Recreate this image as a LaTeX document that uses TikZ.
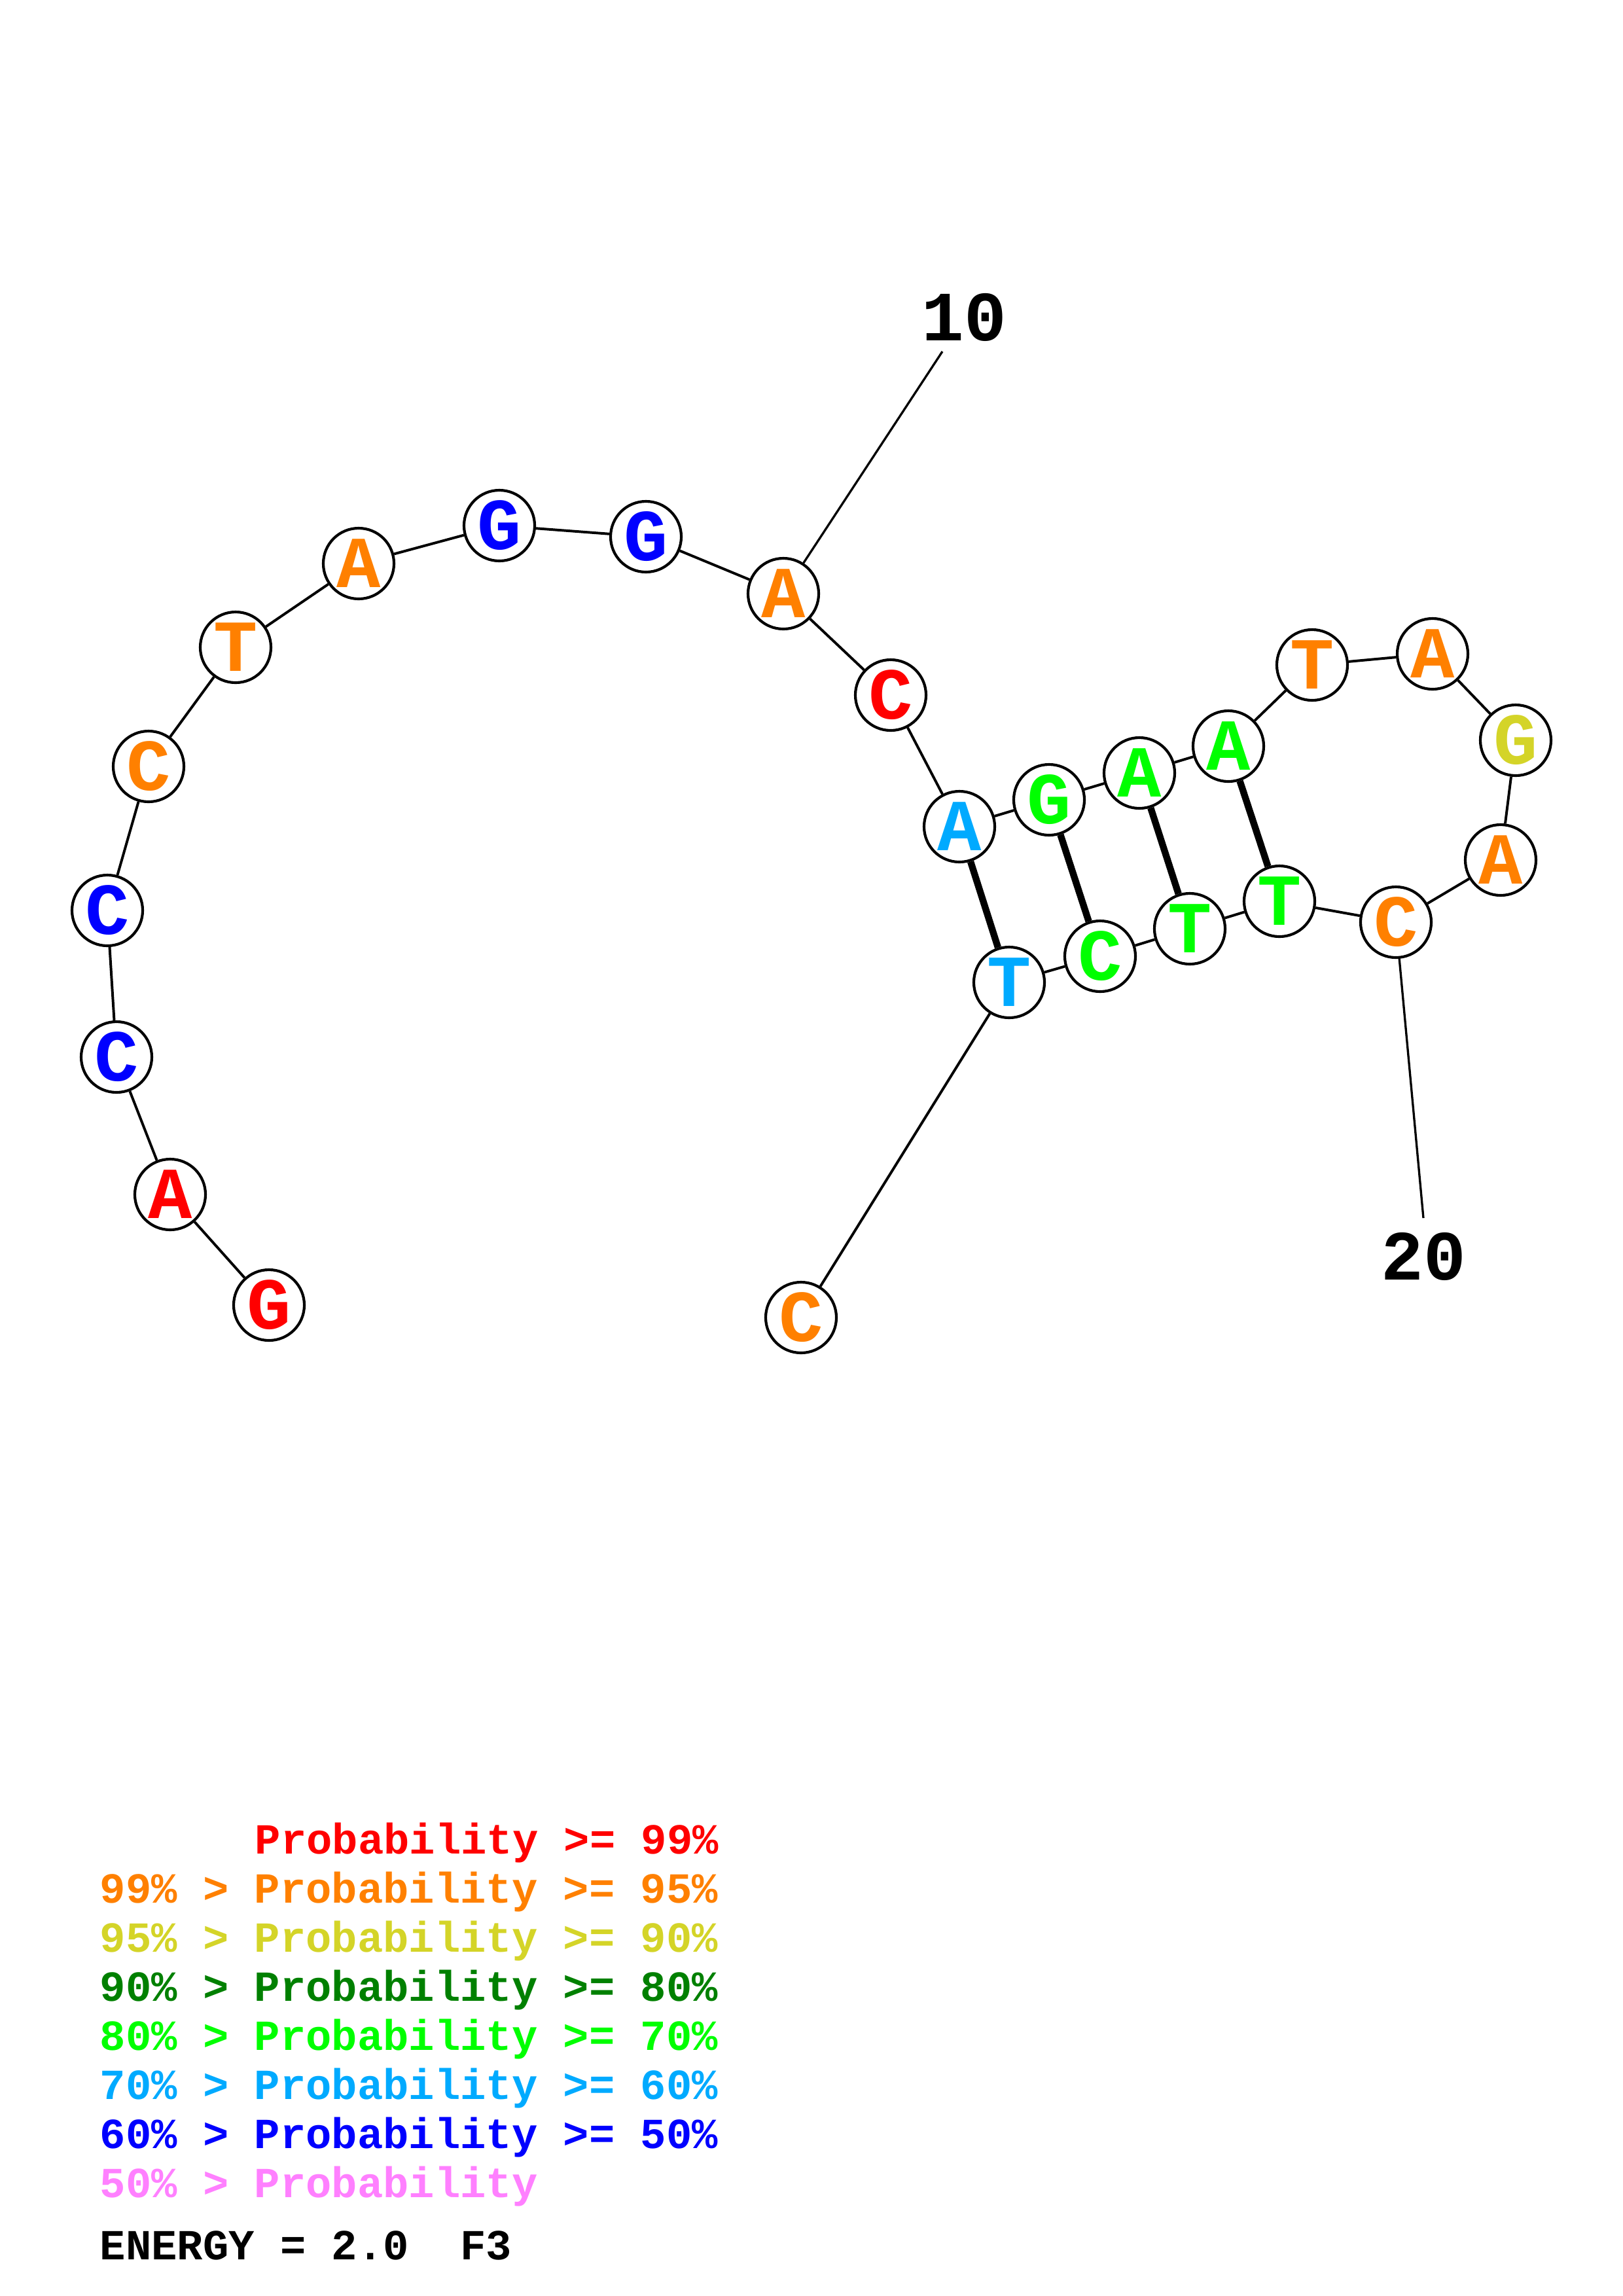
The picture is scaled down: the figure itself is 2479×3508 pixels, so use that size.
\documentclass[tikz,border=0pt]{standalone}
\usepackage{fontspec}
\setmonofont{Liberation Mono}
\definecolor{pA}{RGB}{255,0,0}
\definecolor{pB}{RGB}{255,128,0}
\definecolor{pC}{RGB}{212,212,40}
\definecolor{pD}{RGB}{0,128,0}
\definecolor{pE}{RGB}{0,255,0}
\definecolor{pF}{RGB}{0,170,255}
\definecolor{pG}{RGB}{0,0,255}
\definecolor{pH}{RGB}{255,128,255}

\begin{document}
\begin{tikzpicture}[x=0.08471mm, y=-0.08471mm,
  nt/.style={circle, draw, line width=1pt, fill=white, minimum size=9.15mm, inner sep=0pt, font=\fontsize{27}{27}\selectfont\ttfamily\bfseries},
  bond/.style={line width=0.95pt},
  basepair/.style={line width=2.5pt},
  numline/.style={line width=0.8pt},
  numlabel/.style={inner sep=0pt, font=\fontsize{26}{26}\selectfont\ttfamily\bfseries},
  keyline/.style={anchor=base west, inner sep=0pt, font=\fontsize{15.8}{15.8}\selectfont\ttfamily\bfseries}]
\useasboundingbox (0,0) rectangle (2479,3508);

\node[nt, text=pA] (g1) at (411,1994) {G};
\node[nt, text=pA] (a2) at (260,1825) {A};
\node[nt, text=pG] (c3) at (178,1615) {C};
\node[nt, text=pG] (c4) at (164,1391) {C};
\node[nt, text=pB] (c5) at (227,1171) {C};
\node[nt, text=pB] (t6) at (360,989) {T};
\node[nt, text=pB] (a7) at (548,861) {A};
\node[nt, text=pG] (g8) at (763,803) {G};
\node[nt, text=pG] (g9) at (987,820) {G};
\node[nt, text=pB] (a10) at (1197,907) {A};
\node[nt, text=pA] (c11) at (1361,1062) {C};
\node[nt, text=pF] (a12) at (1466,1263) {A};
\node[nt, text=pE] (g13) at (1603,1222) {G};
\node[nt, text=pE] (a14) at (1741,1181) {A};
\node[nt, text=pE] (a15) at (1877,1140) {A};
\node[nt, text=pB] (t16) at (2005,1016) {T};
\node[nt, text=pB] (a17) at (2189,999) {A};
\node[nt, text=pC] (g18) at (2316,1131) {G};
\node[nt, text=pB] (a19) at (2293,1314) {A};
\node[nt, text=pB] (c20) at (2133,1409) {C};
\node[nt, text=pE] (t21) at (1955,1377) {T};
\node[nt, text=pE] (t22) at (1818,1419) {T};
\node[nt, text=pE] (c23) at (1681,1461) {C};
\node[nt, text=pF] (t24) at (1542,1501) {T};
\node[nt, text=pB] (c25) at (1224,2013) {C};

\draw[bond] (g1) -- (a2);
\draw[bond] (a2) -- (c3);
\draw[bond] (c3) -- (c4);
\draw[bond] (c4) -- (c5);
\draw[bond] (c5) -- (t6);
\draw[bond] (t6) -- (a7);
\draw[bond] (a7) -- (g8);
\draw[bond] (g8) -- (g9);
\draw[bond] (g9) -- (a10);
\draw[bond] (a10) -- (c11);
\draw[bond] (c11) -- (a12);
\draw[bond] (a12) -- (g13);
\draw[bond] (g13) -- (a14);
\draw[bond] (a14) -- (a15);
\draw[bond] (a15) -- (t16);
\draw[bond] (t16) -- (a17);
\draw[bond] (a17) -- (g18);
\draw[bond] (g18) -- (a19);
\draw[bond] (a19) -- (c20);
\draw[bond] (c20) -- (t21);
\draw[bond] (t21) -- (t22);
\draw[bond] (t22) -- (c23);
\draw[bond] (c23) -- (t24);
\draw[bond] (t24) -- (c25);

\draw[basepair] (a12) -- (t24);
\draw[basepair] (g13) -- (c23);
\draw[basepair] (a14) -- (t22);
\draw[basepair] (a15) -- (t21);

\coordinate (e10) at (1440,537);
\coordinate (e20) at (2175,1861);
\node[numlabel] (l10) at (1473,485) {10};
\node[numlabel] (l20) at (2175,1920) {20};
\draw[numline] (a10) -- (e10);
\draw[numline] (c20) -- (e20);

\node[keyline, text=pA] (k99) at (389,2832) {Probability >= 99\%};
\node[keyline, text=pB] (k95) at (152,2907) {99\% > Probability >= 95\%};
\node[keyline, text=pC] (k90) at (152,2982) {95\% > Probability >= 90\%};
\node[keyline, text=pD] (k80) at (152,3057) {90\% > Probability >= 80\%};
\node[keyline, text=pE] (k70) at (152,3132) {80\% > Probability >= 70\%};
\node[keyline, text=pF] (k60) at (152,3207) {70\% > Probability >= 60\%};
\node[keyline, text=pG] (k50) at (152,3282) {60\% > Probability >= 50\%};
\node[keyline, text=pH] (k0) at (152,3357) {50\% > Probability};
\node[keyline, text=black] (energy) at (152,3452) {ENERGY = 2.0\ \ F3};
\end{tikzpicture}
\end{document}
